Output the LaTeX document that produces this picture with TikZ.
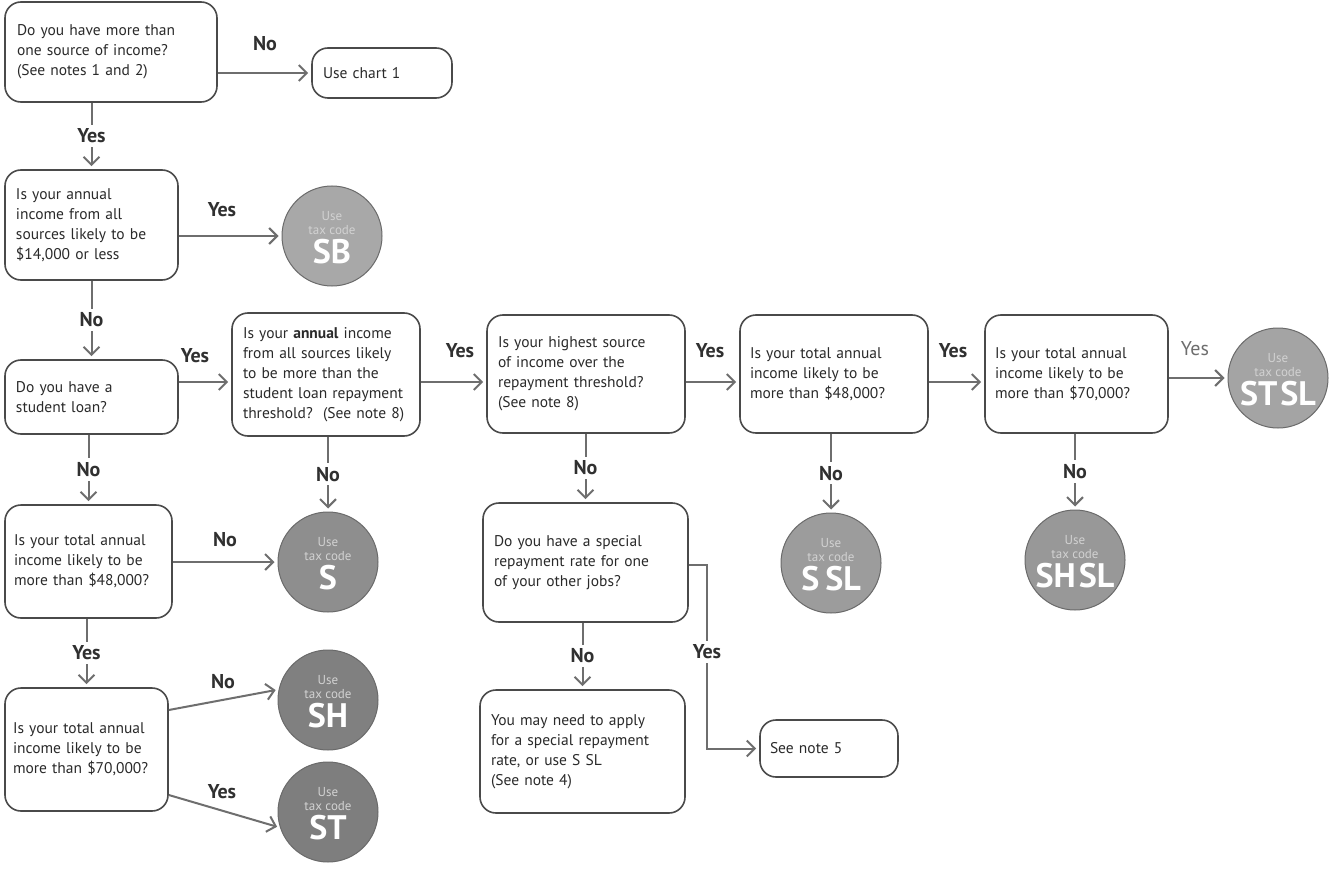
\documentclass[tikz,border=0pt]{standalone}
\usepackage{fontspec}
\setmainfont{PT Sans}
\usetikzlibrary{arrows.meta,calc}
\definecolor{boxc}{HTML}{4A4A4A}
\definecolor{linec}{HTML}{6E6E6E}
\definecolor{txt}{HTML}{2A2A2A}
\definecolor{labc}{HTML}{303030}
\definecolor{circb}{HTML}{6A6A6A}
\definecolor{codesm}{HTML}{D2D2D2}
\definecolor{cSB}{HTML}{A8A8A8}
\definecolor{cS}{HTML}{8E8E8E}
\definecolor{cSH}{HTML}{808080}
\definecolor{cST}{HTML}{7E7E7E}
\definecolor{cSSL}{HTML}{9C9C9C}
\definecolor{cSHSL}{HTML}{989898}
\definecolor{cSTSL}{HTML}{A4A4A4}
\newcommand\codetext[1]{\smash{\makebox[0pt]{\raisebox{-6pt}{\begin{tabular}{@{}c@{}}%
  {\fontsize{13}{15}\selectfont\color{codesm}Use}\\[-1pt]{\fontsize{13}{15}\selectfont\color{codesm}tax code}\\[1pt]%
  {\fontsize{34}{34}\selectfont\bfseries #1}\end{tabular}}}}}
\begin{document}
\begin{tikzpicture}[x=1pt,y=-1pt,
  qbox/.style={draw=boxc, line width=1.6pt, rounded corners=16pt, inner sep=0pt,
    align=left, font=\fontsize{15.5}{20}\selectfont, text=txt},
  conn/.style={draw=linec, line width=2pt,
    -{Straight Barb[length=8pt,width=16pt,line width=2pt]}, shorten >=3pt},
  lab/.style={font=\fontsize{20}{22}\selectfont\bfseries, text=labc, inner sep=2pt},
  vlab/.style={lab, fill=white, inner ysep=4pt},
  code/.style={circle, draw=circb, line width=1pt, inner sep=0pt, minimum size=100pt,
    text=white, font=\fontsize{13}{15}\selectfont},
]
\useasboundingbox (0,0) rectangle (1343,869);
\fill[white] (0,0) rectangle (1343,869);

% helper coordinates
\coordinate (row) at (0,382);
\coordinate (y565) at (0,565);
\coordinate (y710) at (0,710);
\coordinate (y795) at (0,795);
\coordinate (j) at (707,700);

% question boxes
\node[qbox, minimum width=212pt, minimum height=100pt, text width=188pt] (b1) at (111,52)
  {Do you have more than\\one source of income?\\(See notes 1 and 2)\\[6pt]};
\node[qbox, minimum width=140pt, minimum height=50pt, text width=118pt] (chart) at (382,73)
  {Use chart 1};
\node[qbox, minimum width=173pt, minimum height=110pt, text width=151pt] (b2) at (91.5,225)
  {Is your annual\\income from all\\sources likely to be\\\$14,000 or less\\[8pt]};
\node[qbox, minimum width=173pt, minimum height=74pt, text width=151pt] (b3) at (91.5,397)
  {Do you have a\\student loan?};
\node[qbox, minimum width=188pt, minimum height=123pt, text width=166pt] (b4) at (326,374.5)
  {Is your \textbf{annual} income\\from all sources likely\\to be more than the\\student loan repayment\\threshold?\ \ (See note 8)};
\node[qbox, minimum width=198pt, minimum height=118pt, text width=176pt] (b5) at (586,374)
  {Is your highest source\\of income over the\\repayment threshold?\\(See note 8)\\[10pt]};
\node[qbox, minimum width=188pt, minimum height=118pt, text width=168pt] (b6) at (834,374)
  {Is your total annual\\income likely to be\\more than \$48,000?};
\node[qbox, minimum width=183pt, minimum height=118pt, text width=163pt] (b7) at (1076.5,374)
  {Is your total annual\\income likely to be\\more than \$70,000?};
\node[qbox, minimum width=167pt, minimum height=113pt, text width=149pt] (b8) at (88.5,561.5)
  {Is your total annual\\income likely to be\\more than \$48,000?};
\node[qbox, minimum width=163pt, minimum height=123pt, text width=147pt] (b9) at (86.5,749.5)
  {Is your total annual\\income likely to be\\more than \$70,000?};
\node[qbox, minimum width=205pt, minimum height=119pt, text width=183pt] (b10) at (585.5,562.5)
  {Do you have a special\\repayment rate for one\\of your other jobs?\\[14pt]};
\node[qbox, minimum width=205pt, minimum height=123pt, text width=183pt] (b11) at (582.5,751.5)
  {You may need to apply\\for a special repayment\\rate, or use S SL\\(See note 4)\\[6pt]};
\node[qbox, minimum width=138pt, minimum height=57pt, text width=118pt] (b12) at (829,748.5)
  {See note 5};

% tax code circles
\node[code, fill=cSB] (SB) at (332,236) {\codetext{SB}};
\node[code, fill=cS] (S) at (328,562) {\codetext{S}};
\node[code, fill=cSH] (SH) at (328,700) {\codetext{SH}};
\node[code, fill=cST] (ST) at (328,812) {\codetext{ST}};
\node[code, fill=cSSL] (SSL) at (831,563) {\codetext{S\hspace{6pt}SL}};
\node[code, fill=cSHSL] (SHSL) at (1075,560) {\codetext{SH\hspace{3pt}SL}};
\node[code, fill=cSTSL] (STSL) at (1278,378) {\codetext{ST\hspace{3pt}SL}};

% connectors
\draw[conn] (b1.east |- chart.west) -- (chart.west);
\draw[conn] (b1.south -| b2.north) -- node[vlab] (l1) {Yes} (b2.north);
\draw[conn] (b2.east |- SB.west) -- (SB.west);
\draw[conn] (b2.south) -- node[vlab] (l2) {No} (b3.north);
\draw[conn] (b3.east |- row) -- (b4.west |- row);
\draw[conn] (b4.east |- row) -- (b5.west |- row);
\draw[conn] (b5.east |- row) -- (b6.west |- row);
\draw[conn] (b6.east |- row) -- (b7.west |- row);
\draw[conn] (b7.east |- STSL.west) -- (STSL.west);
\draw[conn] (b3.south -| b8.north) -- node[vlab] (l3) {No} (b8.north);
\draw[conn] (b4.south -| S.north) -- node[vlab] (l4) {No} (S.north);
\draw[conn] (b5.south -| b10.north) -- node[vlab] (l5) {No} (b10.north);
\draw[conn] (b6.south -| SSL.north) -- node[vlab] (l6) {No} (SSL.north);
\draw[conn] (b7.south -| SHSL.north) -- node[vlab] (l7) {No} (SHSL.north);
\draw[conn] (b8.east |- S.west) -- (S.west);
\draw[conn] (b8.south -| b9.north) -- node[vlab] (l8) {Yes} (b9.north);
\draw[conn] (b9.east |- y710) -- (SH.168);
\draw[conn] (b9.east |- y795) -- (ST.198);
\draw[conn] (b10.south -| b11.north) -- node[vlab] (l9) {No} (b11.north);
\draw[conn] (b10.east |- y565) -| (j) |- (b12.west);
\node[vlab] (l10) at (707,652) {Yes};

% side labels
\node[lab] (n1) at (265,44) {No};
\node[lab] (n2) at (222,210) {Yes};
\node[lab] (n3) at (195,356) {Yes};
\node[lab] (n4) at (460,351) {Yes};
\node[lab] (n5) at (710,351) {Yes};
\node[lab] (n6) at (953,351) {Yes};
\node[lab, font=\fontsize{20}{22}\selectfont, text=linec] (n7) at (1195,349) {Yes};
\node[lab] (n8) at (225,540) {No};
\node[lab] (n9) at (223,682) {No};
\node[lab] (n10) at (222,792) {Yes};
\end{tikzpicture}
\end{document}
